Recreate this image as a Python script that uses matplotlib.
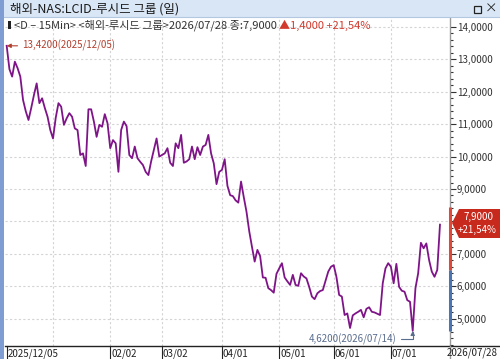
import matplotlib
matplotlib.use("Agg")
import matplotlib.pyplot as plt
import matplotlib.transforms as mtransforms
from matplotlib.patches import Rectangle, Polygon

plt.rcParams['font.family'] = ['Noto Sans CJK KR', 'DejaVu Sans']

# 일봉 종가 (2025/12/05 ~ 2026/07/28, 거래일 순서)
close = [
    13.42, 12.70, 12.47, 12.93, 12.73, 12.47, 11.75, 11.40, 11.13, 11.50,
    11.90, 12.26, 11.65, 11.80, 11.50, 11.23, 10.82, 10.56, 11.20, 11.65,
    11.54, 10.98, 11.18, 11.34, 11.23, 10.87, 10.82, 10.05, 10.10, 9.71,
    11.46, 11.46, 11.08, 10.61, 10.98, 10.92, 11.31, 11.03, 10.26, 10.51,
    10.41, 9.53, 10.82, 11.08, 10.94, 10.05, 9.95, 10.31, 9.95, 9.84,
    9.74, 9.53, 9.43, 9.85, 10.20, 10.56, 10.00, 10.05, 10.10, 10.26,
    9.81, 9.71, 10.41, 10.26, 10.67, 9.81, 9.85, 9.92, 10.31, 9.92,
    10.29, 10.05, 10.31, 10.36, 10.67, 10.10, 9.79, 9.15, 9.53, 9.59,
    9.92, 9.10, 8.81, 8.78, 8.65, 8.58, 9.23, 8.75, 8.30, 7.70,
    7.22, 6.76, 7.12, 6.93, 6.27, 6.26, 5.94, 5.88, 5.80, 6.38,
    6.55, 6.71, 6.27, 6.15, 6.04, 6.35, 6.04, 6.01, 6.40, 6.30,
    6.24, 5.98, 5.68, 5.60, 5.78, 5.85, 5.88, 6.17, 6.45, 6.60,
    6.65, 6.29, 5.73, 5.68, 5.11, 5.16, 4.71, 5.10, 5.16, 5.21,
    5.27, 5.04, 5.30, 5.35, 5.21, 5.19, 5.15, 5.11, 6.09, 6.55,
    6.71, 6.60, 6.09, 6.69, 5.98, 5.86, 5.83, 5.57, 5.52, 4.62,
    5.94, 6.40, 7.34, 7.17, 7.32, 6.81, 6.45, 6.29, 6.50, 7.90,
]
days = list(range(len(close)))

tick_days = [0, 38, 57, 79, 100, 120, 141]
tick_labels = ['2025/12/05', '02/02', '03/02', '04/01', '05/01', '06/01', '07/01']
grid_days = [17, 38, 57, 79, 100, 120, 141]
last_label = '2026/07/28'
y_levels = [5, 6, 7, 8, 9, 10, 11, 12, 13, 14]

hi_day, hi_val, hi_txt = 0, 13.42, '13,4200(2025/12/05)'
lo_day, lo_val, lo_txt = 149, 4.62, '4,6200(2026/07/14)'
prev_close, day_high = 6.50, 8.45

W, H = 500, 359
fig = plt.figure(figsize=(W / 100, H / 100), dpi=100)


def fx(x):
    return x / W


def fy(y):
    return 1 - y / H


ax = fig.add_axes([fx(5), fy(345.7), fx(445), 327.7 / H])
ax.set_xlim(-0.62, 162.68)
ax.set_ylim(4.1636, 14.278)

for v in y_levels:
    ax.axhline(v, color='#d4d4d4', lw=0.8, ls=(0, (2, 2)), zorder=1)
for d in grid_days:
    ax.axvline(d, color='#d4d4d4', lw=0.8, ls=(0, (2, 2)), zorder=1)

ax.plot(days, close, color='#7e1488', lw=1.3, zorder=3)

# 스파인
for s in ['top', 'left']:
    ax.spines[s].set_visible(False)
ax.spines['bottom'].set_color('#222222')
ax.spines['bottom'].set_linewidth(1.0)
ax.spines['right'].set_color('#9a9a9a')
ax.spines['right'].set_linewidth(1.0)

# y축 (오른쪽)
ax.yaxis.tick_right()
ax.set_yticks(y_levels)
ax.set_yticklabels(['' if v == 8 else f'{v:.4f}'.replace('.', ',') for v in y_levels])
ax.set_yticks([v / 5 for v in range(21, 71) if v % 5], minor=True)
ax.tick_params(axis='y', which='major', length=4, width=0.8, color='#333333',
               labelsize=7, labelcolor='#333333', pad=1)
ax.tick_params(axis='y', which='minor', length=2, width=0.8, color='#333333')
ax.tick_params(axis='x', length=0, labelbottom=False)
ax.set_xticks([])

# 오른쪽 등락 구간
tr = mtransforms.blended_transform_factory(ax.transAxes, ax.transData)
ax.plot([1, 1], [prev_close, day_high], transform=tr, color='#e0493a', lw=2.2,
        clip_on=False, zorder=4, solid_capstyle='butt')
ax.plot([1, 1], [lo_val, prev_close], transform=tr, color='#4a74b4', lw=2.2,
        clip_on=False, zorder=4, solid_capstyle='butt')

# x축 라벨
trx = mtransforms.blended_transform_factory(ax.transData, ax.transAxes)
for d, lab in zip(tick_days, tick_labels):
    ax.plot([d, d], [0, -0.04], transform=trx, color='#222222', lw=0.8, clip_on=False)
    ax.text(d + 0.3, -0.025, lab, transform=trx, ha='left', va='center',
            fontsize=7, color='#222222')
fig.add_artist(plt.Line2D([fx(450), fx(500)], [fy(345.7), fy(345.7)], color='#222222', lw=1.0))
fig.add_artist(plt.Line2D([fx(450), fx(450)], [fy(345.7), 0], color='#9a9a9a', lw=1.0))
fig.text(fx(447), fy(353), last_label, ha='left', va='center', fontsize=7, color='#222222')

# 최고/최저 표시
ax.annotate(hi_txt, xy=(hi_day, hi_val), xytext=(15, 0), textcoords='offset pixels',
            ha='left', va='center', fontsize=7, color='#b3402f', zorder=5,
            arrowprops=dict(arrowstyle='-|>', color='#b3402f', lw=0.8,
                            mutation_scale=6, shrinkA=1, shrinkB=0))
ax.annotate(lo_txt, xy=(lo_day, lo_val), xytext=(-16, -8), textcoords='offset pixels',
            ha='right', va='center', fontsize=7, color='#5a6d8e', zorder=5,
            arrowprops=dict(arrowstyle='-|>', color='#5a6d8e', lw=0.8, mutation_scale=6,
                            shrinkA=1, shrinkB=0,
                            connectionstyle='angle,angleA=0,angleB=90,rad=0'))

# 현재가 박스
box = Polygon([(fx(452), fy(223)), (fx(459), fy(209)), (fx(500), fy(209)),
               (fx(500), fy(238)), (fx(459), fy(238))], closed=True,
              transform=fig.transFigure, facecolor='#c8291d', edgecolor='none', zorder=6)
fig.add_artist(box)
fig.text(fx(478), fy(216.5), '7,9000', ha='center', va='center', fontsize=7,
         color='white', zorder=7)
fig.text(fx(477), fy(230), '+21,54%', ha='center', va='center', fontsize=7,
         color='white', zorder=7)

# 창 프레임
fig.add_artist(Rectangle((0, fy(17)), 1, 17 / H, transform=fig.transFigure,
                         facecolor='#d9e6f5', edgecolor='none', zorder=8))
fig.add_artist(plt.Line2D([0, 1], [fy(17), fy(17)], color='#b3c7e0', lw=0.8, zorder=8))
fig.add_artist(Rectangle((0, 0), fx(4), 1, transform=fig.transFigure,
                         facecolor='#7f9dd2', edgecolor='none', zorder=9))
fig.text(fx(10), fy(9.5), '해외-NAS:LCID-루시드 그룹 (일)', ha='left', va='center',
         fontsize=9, color='#1a1a1a', zorder=9)
fig.add_artist(Rectangle((fx(474), fy(13)), fx(7), 7 / H, transform=fig.transFigure,
                         facecolor='none', edgecolor='#222222', lw=0.9, zorder=9))
fig.text(fx(491), fy(9.5), '×', ha='center', va='center', fontsize=9, color='#222222', zorder=9)

# 상단 정보줄
fig.add_artist(Rectangle((fx(8), fy(28.5)), fx(2.5), 7 / H, transform=fig.transFigure,
                         facecolor='#222222', edgecolor='none', zorder=9))
t1 = fig.text(fx(14), fy(25), '<D – 15Min> <해외-루시드 그룹>2026/07/28 종:7,9000 ',
              ha='left', va='center', fontsize=8, color='#333333', zorder=9)
fig.canvas.draw()
bb = t1.get_window_extent()
fig.text(bb.x1 / W, fy(25), '▲1,4000 +21,54%', ha='left', va='center',
         fontsize=8, color='#d23a2e', zorder=9)

fig.savefig('out.png', dpi=100)
